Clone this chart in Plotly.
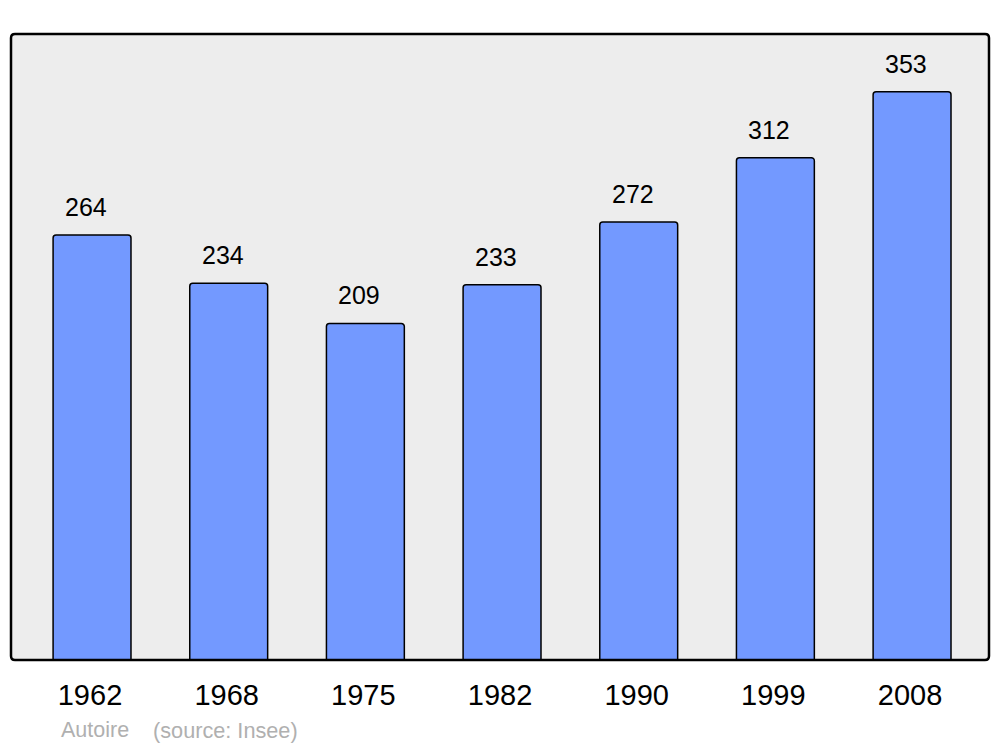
import plotly.graph_objects as go

years = ['1962', '1968', '1975', '1982', '1990', '1999', '2008']
population = [264, 234, 209, 233, 272, 312, 353]
commune = 'Autoire'
source_note = '(source: Insee)'

# plot area in pixels: x 11..989, y 34..660
rx = 4 / 978
ry = 4 / 626
border_path = ('M {x0},0 L {x1},0 Q 1,0 1,{y0} L 1,{y1} Q 1,1 {x1},1 '
               'L {x0},1 Q 0,1 0,{y1} L 0,{y0} Q 0,0 {x0},0 Z').format(
    x0=rx, x1=1 - rx, y0=ry, y1=1 - ry)

bars = go.Bar(x=list(range(len(years))),
              y=population,
              width=0.57,
              marker={'color': '#7399ff',
                      'line': {'color': 'black', 'width': 1.5},
                      'cornerradius': 3},
              hoverinfo='x+y')

annotations = []
for i, v in enumerate(population):
    annotations.append(dict(x=i, y=v, xref='x', yref='y', text=str(v),
                            showarrow=False, yanchor='middle', yshift=28, xshift=-6,
                            font={'size': 25, 'color': 'black'}))

# footer: commune name and source
annotations.append(dict(x=(59 - 11) / 978, y=(660 - 730) / 626, xref='paper', yref='paper',
                        text=commune, showarrow=False, xanchor='left', yanchor='middle',
                        font={'size': 21.5, 'color': '#b0b0b0'}))
annotations.append(dict(x=(151 - 11) / 978, y=(660 - 730) / 626, xref='paper', yref='paper',
                        text=source_note, showarrow=False, xanchor='left', yanchor='middle',
                        font={'size': 21.7, 'color': '#b0b0b0'}))

layout = go.Layout(
    width=1000, height=747,
    margin={'l': 11, 'r': 11, 't': 34, 'b': 87},
    paper_bgcolor='white',
    plot_bgcolor='#ededed',
    font={'family': 'Liberation Sans, Arial, sans-serif', 'color': 'black'},
    showlegend=False,
    xaxis={'range': [-0.593, 6.563],
           'tickmode': 'array',
           'tickvals': [i - 0.015 for i in range(len(years))],
           'ticktext': years,
           'tickfont': {'size': 29},
           'ticks': 'outside', 'ticklen': 9, 'tickcolor': 'rgba(0,0,0,0)',
           'showgrid': False, 'zeroline': False, 'showline': False,
           'fixedrange': True},
    yaxis={'range': [0, 388.8], 'visible': False, 'showgrid': False,
           'zeroline': False, 'fixedrange': True},
    annotations=annotations,
    shapes=[dict(type='path', path=border_path, xref='paper', yref='paper',
                 line={'color': 'black', 'width': 2.5}, layer='above')],
)

fig = go.Figure(data=[bars], layout=layout)
fig.write_html('out.html', config={'displayModeBar': False},
               post_script="document.body.style.margin='0';document.body.style.overflow='hidden';")
